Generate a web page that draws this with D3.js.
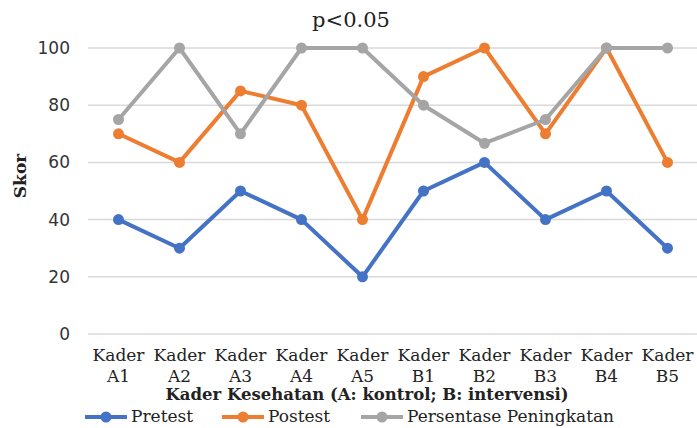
<!DOCTYPE html><html><head><meta charset="UTF-8"><script src="https://d3js.org/d3.v7.min.js"></script><style>
  body { margin: 0; background: #fff; }
  #chart { width: 697px; height: 428px; }
  .serif { font-family: "DejaVu Serif", serif; fill: #222; }
</style></head><body><div id="chart"></div><script>
const categories = ["A1","A2","A3","A4","A5","B1","B2","B3","B4","B5"];
const pretest = [40,30,50,40,20,50,60,40,50,30];
const postest = [70,60,85,80,40,90,100,70,100,60];
const peningkatan = [75,100,70,100,100,80,66.7,75,100,100];
const yTicks = [0,20,40,60,80,100];

const series = [
  {name: "Pretest", values: pretest, color: "#4472C4"},
  {name: "Postest", values: postest, color: "#ED7D31"},
  {name: "Persentase Peningkatan", values: peningkatan, color: "#A5A5A5"}
];

const W = 697, H = 428;
const svg = d3.select('#chart').append('svg').attr('width', W).attr('height', H);

const x = d3.scaleBand().domain(categories).range([88, 698]);
const y = d3.scaleLinear().domain([0, 100]).range([334, 48]);

// gridlines
svg.append('g').selectAll('line').data(yTicks).enter().append('line')
  .attr('x1', 88).attr('x2', 697)
  .attr('y1', d => y(d)).attr('y2', d => y(d))
  .attr('stroke', '#d9d9d9').attr('stroke-width', 1.5);

// y tick labels
svg.append('g').selectAll('text').data(yTicks).enter().append('text')
  .attr('x', 70).attr('y', d => y(d) + 6)
  .attr('text-anchor', 'end')
  .attr('font-family', '"DejaVu Sans", sans-serif').attr('font-size', 17).attr('fill', '#333')
  .text(d => d);

// x labels (two lines)
const xl = svg.append('g').selectAll('text').data(categories).enter().append('text')
  .attr('class', 'serif').attr('font-size', 17).attr('text-anchor', 'middle');
xl.append('tspan').attr('x', d => x(d) + x.bandwidth() / 2).attr('y', 361).text('Kader');
xl.append('tspan').attr('x', d => x(d) + x.bandwidth() / 2).attr('y', 382).text(d => d);

// lines
const line = d3.line().x((d, i) => x(categories[i]) + x.bandwidth() / 2).y(d => y(d));
series.forEach(s => {
  svg.append('path').datum(s.values).attr('d', line)
    .attr('fill', 'none').attr('stroke', s.color).attr('stroke-width', 4)
    .attr('stroke-linejoin', 'round');
  svg.append('g').selectAll('circle').data(s.values).enter().append('circle')
    .attr('cx', (d, i) => x(categories[i]) + x.bandwidth() / 2)
    .attr('cy', d => y(d)).attr('r', 5.5).attr('fill', s.color);
});

// title
svg.append('text').attr('class', 'serif').attr('x', 351).attr('y', 27)
  .attr('text-anchor', 'middle').attr('font-size', 21).text('p<0.05');

// axis titles
svg.append('text').attr('class', 'serif').attr('x', 367).attr('y', 400)
  .attr('text-anchor', 'middle').attr('font-size', 16.5).attr('font-weight', 'bold')
  .attr('fill', '#000').text('Kader Kesehatan (A: kontrol; B: intervensi)');
svg.append('text').attr('class', 'serif')
  .attr('transform', 'translate(26,176) rotate(-90)')
  .attr('text-anchor', 'middle').attr('font-size', 17).attr('font-weight', 'bold')
  .attr('fill', '#000').text('Skor');

// legend
const legX = [85, 222, 361];
const leg = svg.append('g').selectAll('g').data(series).enter().append('g')
  .attr('transform', (d, i) => `translate(${legX[i]},417)`);
leg.append('line').attr('x1', 0).attr('x2', 42).attr('y1', 0).attr('y2', 0)
  .attr('stroke', d => d.color).attr('stroke-width', 4);
leg.append('circle').attr('cx', 21).attr('cy', 0).attr('r', 5.5).attr('fill', d => d.color);
leg.append('text').attr('class', 'serif').attr('x', 46).attr('y', 5)
  .attr('font-size', 17).text(d => d.name);
</script></body></html>
